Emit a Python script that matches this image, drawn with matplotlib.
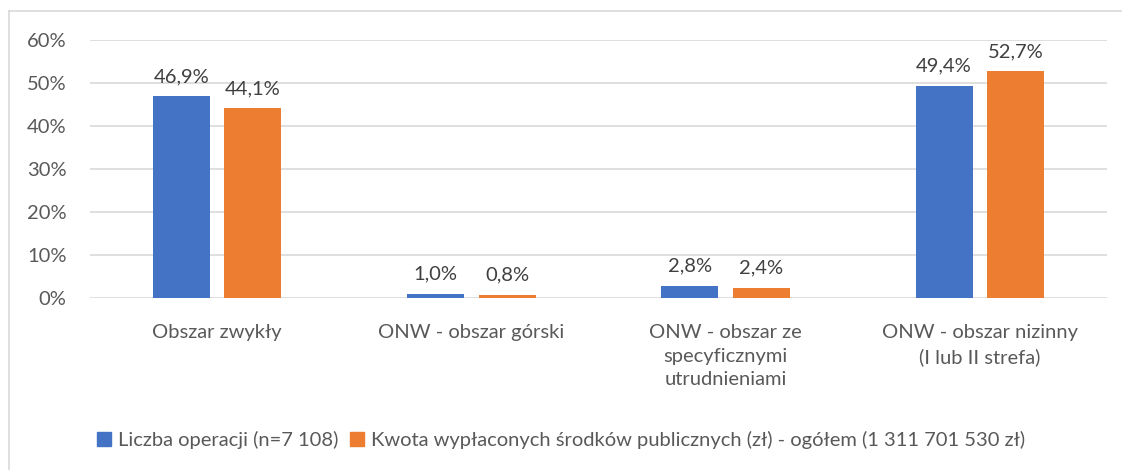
import matplotlib.pyplot as plt
from matplotlib.lines import Line2D
from matplotlib.patches import Patch
import numpy as np

categories = ["Obszar zwykły", "ONW - obszar górski",
              "ONW - obszar ze\nspecyficznymi\nutrudnieniami",
              "ONW - obszar nizinny\n(I lub II strefa)"]
series_names = ["Liczba operacji (n=7 108)",
                "Kwota wypłaconych środków publicznych (zł) - ogółem (1 311 701 530 zł)"]
liczba = [46.9, 1.0, 2.8, 49.4]
kwota = [44.1, 0.8, 2.4, 52.7]
yticks = [0, 10, 20, 30, 40, 50, 60]

colors = ["#4472C4", "#ED7D31"]
plt.rcParams['font.family'] = ['Lato', 'DejaVu Sans']
FS = 14.5

fig = plt.figure(figsize=(11.22, 4.70), dpi=100)
ax = fig.add_axes([90/1122, 1-298/470, (1107-90)/1122, (298-40)/470])

x = np.arange(len(categories))
w = 0.224
off = 0.141
b1 = ax.bar(x - off, liczba, w, color=colors[0], zorder=3)
b2 = ax.bar(x + off, kwota, w, color=colors[1], zorder=3)
for bars, vals in ((b1, liczba), (b2, kwota)):
    for r, v in zip(bars, vals):
        ax.annotate(f"{v:.1f}%".replace(".", ","), (r.get_x() + r.get_width()/2, v),
                    xytext=(0, 8), textcoords="offset points", ha="center", va="bottom",
                    fontsize=FS, color="#404040")

ax.set_xlim(-0.5, 3.5)
ax.set_ylim(0, 60)
ax.set_yticks(yticks)
ax.set_yticklabels([f"{t}%" for t in yticks], fontsize=FS, color="#595959")
ax.set_xticks(x)
ax.set_xticklabels(categories, fontsize=FS, color="#595959", linespacing=1.45)
ax.tick_params(axis="both", length=0)
ax.tick_params(axis="x", pad=19)
ax.tick_params(axis="y", pad=17)
ax.grid(axis="y", color="#D9D9D9", linewidth=1.2, zorder=0)
for s in ax.spines.values():
    s.set_visible(False)

handles = [Patch(color=c) for c in colors]
fig.legend(handles, series_names, loc="center", bbox_to_anchor=(0.5, 1-440/470),
           ncol=2, frameon=False, fontsize=FS, labelcolor="#595959",
           handlelength=0.7, handleheight=0.7, handletextpad=0.35, columnspacing=0.6)

fig.add_artist(Line2D([9/1122, 9/1122], [0, 1-11/470], transform=fig.transFigure,
                      color="#D9D9D9", linewidth=1.2))
fig.add_artist(Line2D([9/1122, 1], [1-11/470, 1-11/470], transform=fig.transFigure,
                      color="#D9D9D9", linewidth=1.2))

fig.savefig("out.png", dpi=100)
